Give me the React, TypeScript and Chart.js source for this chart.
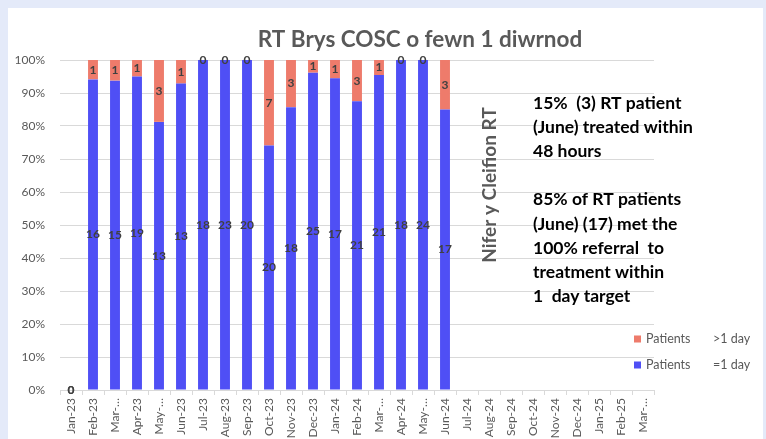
import { useEffect, useRef } from "react";
import { Chart, registerables } from "chart.js";

Chart.register(...registerables);

const months = [
  "Jan-23", "Feb-23", "Mar-…", "Apr-23", "May-…", "Jun-23", "Jul-23", "Aug-23", "Sep-23",
  "Oct-23", "Nov-23", "Dec-23", "Jan-24", "Feb-24", "Mar-…", "Apr-24", "May-…", "Jun-24",
  "Jul-24", "Aug-24", "Sep-24", "Oct-24", "Nov-24", "Dec-24", "Jan-25", "Feb-25", "Mar-…",
];

const withinOneDay: (number | null)[] = [
  0, 16, 15, 19, 13, 13, 18, 23, 20, 20, 18, 25, 17, 21, 21, 18, 24, 17,
  null, null, null, null, null, null, null, null, null,
];

const overOneDay: (number | null)[] = [
  0, 1, 1, 1, 3, 1, 0, 0, 0, 7, 3, 1, 1, 3, 1, 0, 0, 3,
  null, null, null, null, null, null, null, null, null,
];

const yTicks = [0, 10, 20, 30, 40, 50, 60, 70, 80, 90, 100];

const titleText = "RT Brys COSC o fewn 1 diwrnod";
const sideTitle = "Nifer y Cleifion RT";
const noteLines = [
  "15%  (3) RT patient",
  "(June) treated within",
  "48 hours",
  "",
  "85% of RT patients",
  "(June) (17) met the",
  "100% referral  to",
  "treatment within",
  "1  day target",
];
const legendItems = [
  { name: "Patients", suffix: ">1 day", color: "#EE7B6B" },
  { name: "Patients", suffix: "=1 day", color: "#4F4FF5" },
];

const BLUE = "#4F4FF5";
const SALMON = "#EE7B6B";
const FONT = "Lato, 'Open Sans', sans-serif";

function pct(part: number | null, other: number | null): number | null {
  if (part == null) return null;
  const total = part + (other ?? 0);
  return total > 0 ? (part / total) * 100 : 0;
}

export default function App() {
  const ref = useRef<HTMLCanvasElement | null>(null);

  useEffect(() => {
    const canvas = ref.current;
    if (!canvas) return;
    const counts = [withinOneDay, overOneDay];

    const decor = {
      id: "decor",
      beforeDraw(chart: any) {
        const ctx = chart.ctx;
        ctx.save();
        ctx.fillStyle = "#E4EAF9";
        ctx.fillRect(0, 0, chart.width, chart.height);
        ctx.fillStyle = "#FFFFFF";
        ctx.fillRect(8, 8, 755, chart.height - 8);
        ctx.restore();
      },
      afterDatasetsDraw(chart: any) {
        const ctx = chart.ctx;
        ctx.save();
        ctx.font = `bold 12px ${FONT}`;
        ctx.fillStyle = "#404040";
        ctx.textAlign = "center";
        ctx.textBaseline = "middle";
        counts.forEach((arr, i) => {
          const meta = chart.getDatasetMeta(i);
          meta.data.forEach((el: any, j: number) => {
            const v = arr[j];
            if (v == null) return;
            const p = el.getProps(["x", "y", "base"], true);
            ctx.fillText(String(v), p.x, (p.y + p.base) / 2);
          });
        });
        ctx.restore();
      },
      afterDraw(chart: any) {
        const ctx = chart.ctx;
        ctx.save();
        // title
        ctx.fillStyle = "#595959";
        ctx.font = `bold 22.5px ${FONT}`;
        ctx.textAlign = "center";
        ctx.textBaseline = "middle";
        ctx.fillText(titleText, 420, 40);
        // vertical title
        ctx.save();
        ctx.translate(490, 185);
        ctx.rotate(-Math.PI / 2);
        ctx.font = `bold 19px ${FONT}`;
        ctx.fillText(sideTitle, 0, 0);
        ctx.restore();
        // notes
        ctx.fillStyle = "#000000";
        ctx.font = `bold 17.5px ${FONT}`;
        ctx.textAlign = "left";
        noteLines.forEach((line, i) => {
          if (line) ctx.fillText(line, 533, 103 + i * 24.2);
        });
        // legend
        ctx.font = `12.5px ${FONT}`;
        legendItems.forEach((it, i) => {
          const cy = 339 + i * 26;
          ctx.fillStyle = it.color;
          ctx.fillRect(634, cy - 3.5, 7, 7);
          ctx.fillStyle = "#595959";
          ctx.fillText(it.name, 646, cy);
          ctx.fillText(it.suffix, 713, cy);
        });
        ctx.restore();
      },
    };

    const chart = new Chart(canvas, {
      type: "bar",
      data: {
        labels: months,
        datasets: [
          {
            label: "Patients    =1 day",
            data: withinOneDay.map((v, i) => pct(v, overOneDay[i])),
            backgroundColor: BLUE,
            barPercentage: 0.45,
            categoryPercentage: 1,
          },
          {
            label: "Patients    >1 day",
            data: overOneDay.map((v, i) => pct(v, withinOneDay[i])),
            backgroundColor: SALMON,
            barPercentage: 0.45,
            categoryPercentage: 1,
          },
        ],
      },
      options: {
        responsive: false,
        animation: false,
        devicePixelRatio: 1,
        layout: { padding: { left: 0, right: 112, top: 60, bottom: 0 } },
        plugins: {
          legend: { display: false },
          title: { display: false },
          tooltip: { enabled: false },
        },
        scales: {
          x: {
            stacked: true,
            grid: {
              display: true,
              drawOnChartArea: false,
              drawTicks: true,
              tickLength: 5,
              color: "#D9D9D9",
              offset: true,
            },
            border: { display: true, color: "#D9D9D9" },
            ticks: {
              autoSkip: false,
              maxRotation: 90,
              minRotation: 90,
              padding: 3,
              color: "#595959",
              font: { family: FONT, size: 12 },
            },
            afterFit(scale: any) {
              scale.height = 49;
            },
          },
          y: {
            stacked: true,
            min: 0,
            max: 100,
            afterBuildTicks(scale: any) {
              scale.ticks = yTicks.map((v) => ({ value: v }));
            },
            grid: { color: "#D9D9D9", drawTicks: false },
            border: { display: false },
            ticks: {
              padding: 15,
              color: "#595959",
              font: { family: FONT, size: 12 },
              callback: (v: any) => `${v}%`,
            },
            afterFit(scale: any) {
              scale.width = 60;
            },
          },
        },
      },
      plugins: [decor],
    } as any);

    return () => chart.destroy();
  }, []);

  return (
    <canvas
      ref={ref}
      width={766}
      height={439}
      style={{ position: "fixed", left: 0, top: 0, display: "block", width: 766, height: 439 }}
    />
  );
}
